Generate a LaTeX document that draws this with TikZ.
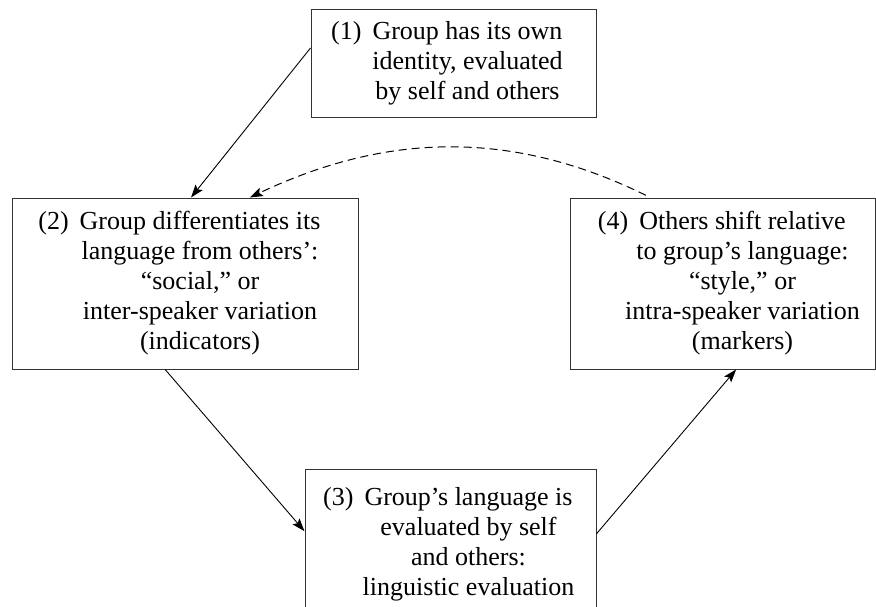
\documentclass[tikz,border=0pt]{standalone}
\usepackage{fontspec}
\setmainfont{Liberation Serif}
\usetikzlibrary{arrows.meta}
% hanging stage number set to the left of a centred column of lines
\newcommand{\stagenum}[1]{\llap{(#1)\hspace{11pt}}}
\begin{document}
\begin{tikzpicture}[x=1pt,y=-1pt,
  stagebox/.style={draw=black!80,line width=1pt,inner sep=0pt,align=center,
    font=\fontsize{26}{30}\selectfont},
  link/.style={line width=0.9pt,-{Stealth[length=13pt,width=9pt,inset=2.5pt]}},
  feedback/.style={link,line width=1pt,dash pattern=on 8pt off 5pt}]
\useasboundingbox (0,0) rectangle (876,606);
\node[stagebox,minimum width=285,minimum height=108] (b1) at (453.5,63)
  {\hspace*{28pt}\begin{tabular}{@{}c@{}}\stagenum{1}Group has its own\\ identity, evaluated\\ by self and others\end{tabular}};
\node[stagebox,minimum width=346,minimum height=171] (b2) at (185,283.5)
  {\hspace*{30pt}\begin{tabular}{@{}c@{}}\stagenum{2}Group differentiates its\\ language from others':\\ ``social,'' or\\ inter-speaker variation\\ (indicators)\end{tabular}};
\node[stagebox,minimum width=305,minimum height=171] (b4) at (722.5,283.5)
  {\hspace*{40pt}\begin{tabular}{@{}c@{}}\stagenum{4}Others shift relative\\ to group's language:\\ ``style,'' or\\ intra-speaker variation\\ (markers)\end{tabular}};
\node[stagebox,minimum width=291,minimum height=150] (b3) at (450.5,544)
  {\hspace*{36pt}\begin{tabular}{@{}c@{}}\stagenum{3}Group's language is\\ evaluated by self\\ and others:\\ linguistic evaluation\end{tabular}};
\draw[link] (b1.174.8) -- (b2.86.7);
\draw[link] (b2.257.6) -- (b3.175.7);
\draw[link] (b3.4.3) -- (b4.279.5);
\draw[feedback,shorten <=5pt] (b4.130.3) .. controls (515,131) and (390,131) .. (b2.53.6);
\end{tikzpicture}
\end{document}
